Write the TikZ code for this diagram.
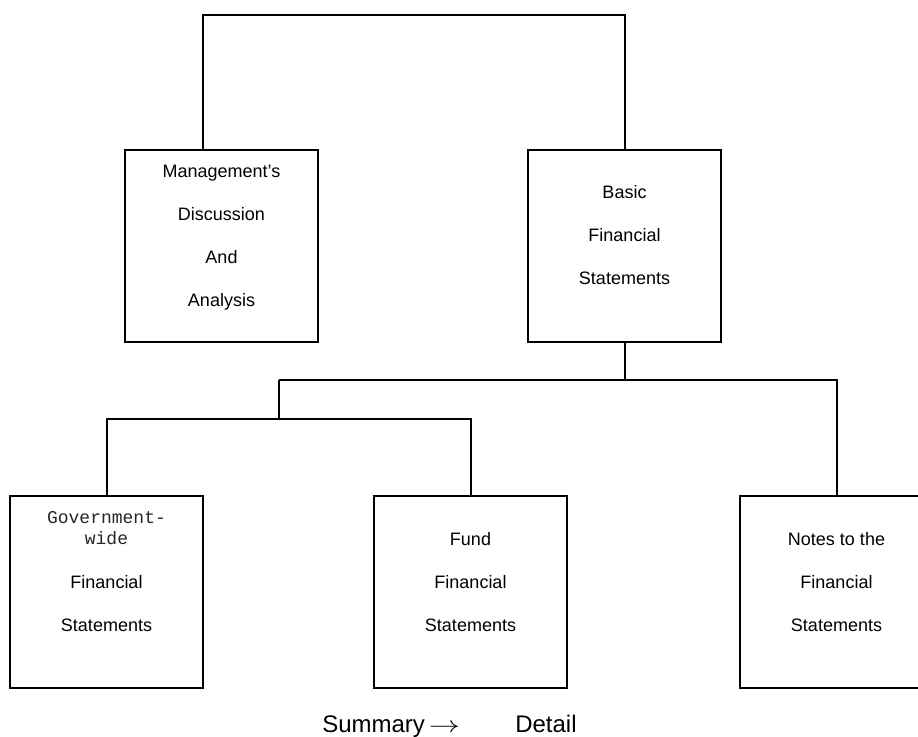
\documentclass[tikz,border=0pt]{standalone}
\usepackage{fontspec}
\setmainfont{Liberation Sans}
\setmonofont{Liberation Mono}
\usetikzlibrary{positioning}

\begin{document}
\begin{tikzpicture}[x=0.75pt, y=-0.75pt,
  box/.style={draw, line width=1.5pt, minimum width=144.75pt, minimum height=144pt, inner sep=0pt},
  boxtext/.style={inner sep=0pt, align=center, font=\fontsize{13.5pt}{32.25pt}\selectfont},
  monotext/.style={inner sep=0pt, align=center, text=black!85, font=\ttfamily\fontsize{13.5pt}{15.75pt}\selectfont},
  link/.style={line width=1.5pt},
  caption/.style={inner sep=0pt, font=\fontsize{18pt}{21pt}\selectfont}]

\useasboundingbox (0,0) rectangle (918,736);

\node [box] (mda) at (221.5,246) {};
\node [box] (bfs) at (624.5,246) {};
\node [box] (gov) at (106.5,591.5) {};
\node [box] (fund) at (470.5,591.5) {};
\node [box] (notes) at (836.5,591.5) {};

\coordinate (topL) at (203,15);
\coordinate (hone) at (279,380);
\coordinate (htwo) at (279,419);

\draw [link] (mda.north -| topL) -- (topL) -| (bfs.north);
\draw [link] (bfs.south) -- (bfs.south |- hone);
\draw [link] (hone) -| (notes.north);
\draw [link] (hone) -- (htwo);
\draw [link] (gov.north) |- (htwo) -| (fund.north);

\node [boxtext, below=11.6pt of mda.north] (mdatext) {Management's\\Discussion\\And\\Analysis};
\node [boxtext, below=27.4pt of bfs.north] (bfstext) {Basic\\Financial\\Statements};
\node [monotext, below=12.75pt of gov.north] (govmono) {Government-\\wide};
\node [boxtext, below=60.4pt of gov.north] (govtext) {Financial\\Statements};
\node [boxtext, below=28.1pt of fund.north] (fundtext) {Fund\\Financial\\Statements};
\node [boxtext, below=28.1pt of notes.north] (notestext) {Notes to the\\Financial\\Statements};

\node [caption, anchor=base west] (summary) at (322,732) {Summary\,\scalebox{1.35}[1]{$\rightarrow$}};
\node [caption, anchor=base west] (detail) at (515,732) {Detail};

\end{tikzpicture}
\end{document}
